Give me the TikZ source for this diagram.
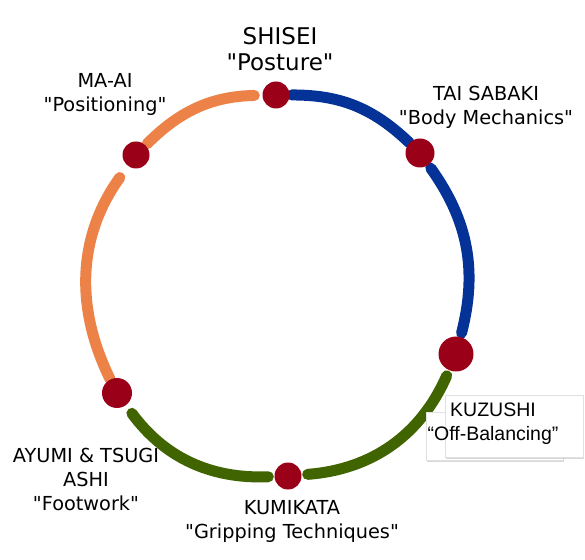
\documentclass[tikz,border=0pt]{standalone}
\usepackage{fontspec}
\setmainfont{DejaVu Sans}[Ligatures=TeXOff]
\newfontfamily\arialfont{Liberation Sans}
\usetikzlibrary{positioning,shadows}

\definecolor{dotred}{RGB}{155,0,25}
\definecolor{maaiorange}{RGB}{236,130,72}
\definecolor{taiblue}{RGB}{5,50,150}
\definecolor{kumigreen}{RGB}{64,100,0}

\pgfdeclarelayer{bg}
\pgfsetlayers{bg,main}

\tikzstyle{dot} = [circle, fill=dotred, minimum size=27pt, inner sep=0pt]
\tikzstyle{band} = [line width=11pt, line cap=round]
\tikzstyle{lab} = [align=center, inner sep=0pt, font=\fontsize{19.3}{24}\selectfont]
\tikzstyle{card} = [fill=white, draw=black!12, drop shadow={shadow xshift=1pt, shadow yshift=-1.5pt, opacity=0.3}]

\begin{document}
\begin{tikzpicture}[x=1pt, y=1pt]

		\useasboundingbox (0,0) rectangle (585,559);

		% stations on the ring
		\node [dot] (shisei)   at (276,464) {};
		\node [dot,minimum size=29pt] (tai) at (420,406) {};
		\node [dot,minimum size=35pt] (kuzushi) at (456,205) {};
		\node [dot] (kumikata) at (288,83)  {};
		\node [dot,minimum size=30pt] (ayumi) at (117,166) {};
		\node [dot] (maai)     at (136,404) {};

		% ring segments
		\begin{pgfonlayer}{bg}
			\draw [band,taiblue,shorten <=2pt] (shisei) to [bend left=22] (tai);
			\draw [band,taiblue,shorten <=4pt,shorten >=4pt] (tai) to [bend left=25] (kuzushi);
			\draw [band,kumigreen,shorten <=6pt,shorten >=6pt] (kuzushi) to [bend left=31] (kumikata);
			\draw [band,kumigreen,shorten <=6pt,shorten >=10pt] (kumikata) to [bend left=28] (ayumi);
			\draw [band,maaiorange,shorten >=14pt] (ayumi) to [bend left=31] (maai);
			\draw [band,maaiorange,shorten <=2pt,shorten >=8pt] (maai) to [bend left=22] (shisei);
		\end{pgfonlayer}

		% KUZUSHI cards
		\filldraw [card] (426,99) rectangle (563,147);
		\filldraw [card] (445,102) rectangle (583,164);

		% labels
		\node [lab,font=\fontsize{23}{26}\selectfont] (shiseilab) at (280,510) {SHISEI\\"Posture"};
		\node [lab] (tailab)      at (486,452) {TAI SABAKI\\"Body Mechanics"};
		\node [lab,font=\arialfont\fontsize{19.5}{24}\selectfont] (kuzushilab) at (493,135) {KUZUSHI\\“Off-Balancing”};
		\node [lab] (kumikatalab) at (292,38)  {KUMIKATA\\"Gripping Techniques"};
		\node [lab] (ayumilab)    at (86,80)   {AYUMI \& TSUGI\\ASHI\\"Footwork"};
		\node [lab] (maailab)     at (105,465) {MA-AI\\"Positioning"};

\end{tikzpicture}
\end{document}
